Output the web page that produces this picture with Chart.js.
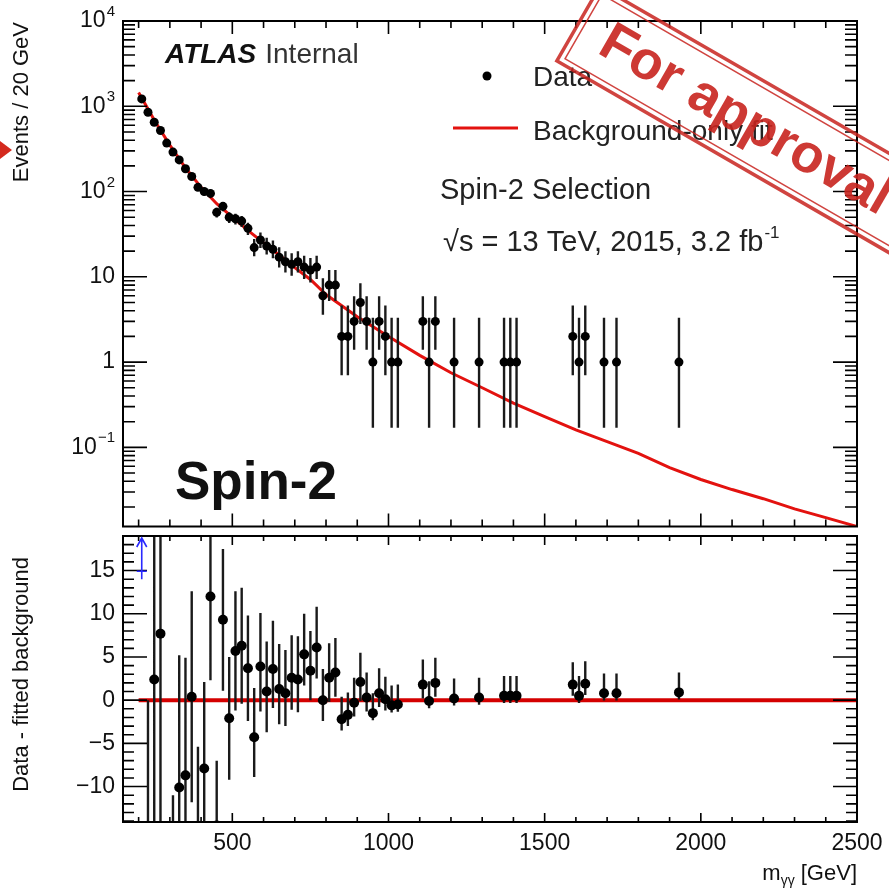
<!DOCTYPE html>
<html lang="en">
<head>
<meta charset="UTF-8" />
<title>Spin-2 selection - diphoton mass</title>
<script src="https://cdn.jsdelivr.net/npm/chart.js"></script>
<style>
  body { margin: 0; background: #fff; }
  .wrap { position: relative; width: 889px; height: 889px; overflow: hidden; }
  canvas { position: absolute; left: 0; }
  #mainChart { top: 0; }
  #ratioChart { top: 531px; }
</style>
</head>
<body>
<div class="wrap">
  <canvas id="mainChart" width="889" height="531"></canvas>
  <canvas id="ratioChart" width="889" height="358"></canvas>
</div>
<script>
// data (20 GeV bins)
const massBins = [210, 230, 250, 270, 290, 310, 330, 350, 370, 390, 410, 430, 450, 470, 490, 510,
  530, 550, 570, 590, 610, 630, 650, 670, 690, 710, 730, 750, 770, 790, 810, 830,
  850, 870, 890, 910, 930, 950, 970, 990, 1010, 1030,
  1110, 1130, 1150, 1210, 1290, 1370, 1390, 1410,
  1590, 1610, 1630, 1690, 1730, 1930];
const events = [1220, 850, 650, 520, 370, 290, 235, 185, 150, 112, 100, 95, 57, 67, 50, 48,
  45, 37, 22, 27, 23, 21, 17, 15, 14, 15, 13, 12, 13, 6, 8, 8,
  2, 2, 3, 5, 3, 1, 3, 2, 1, 1,
  3, 1, 3, 1, 1, 1, 1, 1,
  2, 1, 2, 1, 1, 1];
const errDown = [35, 29, 25.5, 22.8, 19.2, 17, 15.3, 13.6, 12.2, 10.6, 10, 9.7, 7.5, 8.2, 7.1, 6.9,
  6.7, 6.1, 4.6, 5.2, 4.7, 4.5, 4.1, 3.8, 3.7, 3.8, 3.6, 3.4, 3.6, 2.4, 2.8, 2.8,
  1.3, 1.3, 1.6, 2.2, 1.6, 0.83, 1.6, 1.3, 0.83, 0.83,
  1.6, 0.83, 1.6, 0.83, 0.83, 0.83, 0.83, 0.83,
  1.3, 0.83, 1.3, 0.83, 0.83, 0.83];
const errUp = [35, 29, 25.5, 22.8, 19.2, 17, 15.3, 13.6, 12.2, 10.6, 10, 9.7, 7.5, 8.2, 7.1, 6.9,
  6.7, 6.1, 5.7, 6.2, 5.8, 5.6, 5.2, 5.0, 4.9, 5.0, 4.7, 4.6, 4.7, 3.6, 4.0, 4.0,
  2.6, 2.6, 2.9, 3.4, 2.9, 2.3, 2.9, 2.6, 2.3, 2.3,
  2.9, 2.3, 2.9, 2.3, 2.3, 2.3, 2.3, 2.3,
  2.6, 2.3, 2.6, 2.3, 2.3, 2.3];
const residuals = [80, -29, 2.4, 7.7, -40, -28, -10.1, -8.7, 0.4, -16, -7.9, 12.0, -14.5, 9.3, -2.1, 5.7,
  6.3, 3.7, -4.3, 3.9, 1.0, 3.6, 1.3, 0.8, 2.6, 2.4, 5.3, 3.4, 6.1, 0, 2.6, 3.2,
  -2.2, -1.7, -0.3, 2.1, 0.3, -1.5, 0.8, 0.1, -0.6, -0.5,
  1.8, -0.1, 2.0, 0.2, 0.3, 0.5, 0.5, 0.5,
  1.8, 0.5, 1.9, 0.8, 0.8, 0.9];

const fitMass = [200, 250, 300, 350, 400, 450, 500, 550, 600, 650, 700, 750, 800, 900, 1000,
  1100, 1200, 1300, 1400, 1500, 1600, 1700, 1800, 1900, 2000, 2100, 2200, 2300, 2400, 2500];
const fitEvents = [1450, 690, 350, 190, 112, 72, 50, 35, 25, 18, 12.8, 9.3, 6.2, 3.4, 2.0,
  1.2, 0.75, 0.5, 0.33, 0.23, 0.16, 0.117, 0.085, 0.058, 0.042, 0.032, 0.025, 0.019, 0.015, 0.0118];

const xTicks = [500, 1000, 1500, 2000, 2500];
const logTicks = [0.1, 1, 10, 100, 1000, 10000];
const residualTicks = [-10, -5, 0, 5, 10, 15];

const FONT = '"Liberation Sans", Arial, Helvetica, sans-serif';
const INK = '#111';
const RED = '#e3120f';
Chart.defaults.font.family = FONT;
Chart.defaults.color = INK;

function clipToArea(ctx, a) {
  ctx.beginPath();
  ctx.rect(a.left, a.top, a.right - a.left, a.bottom - a.top);
  ctx.clip();
}

// fixed axis box, no extra room for overhanging labels
function pinAxis(size) {
  return s => {
    if (s.isHorizontal()) s.height = size; else s.width = size;
    s.paddingTop = s.paddingBottom = s.paddingLeft = s.paddingRight = 0;
  };
}

// ROOT-like frame: ticks pointing inwards on all four sides
function drawFrame(chart, yMajor, yMinor, len) {
  const { ctx, chartArea: a, scales } = chart;
  const sx = scales.x, sy = scales.y;
  ctx.save();
  ctx.strokeStyle = '#000';
  ctx.lineWidth = 1.6;
  ctx.beginPath();
  for (let v = 200; v < 2500; v += 100) {
    const px = sx.getPixelForValue(v);
    const l = v % 500 === 0 ? len.xMajor : len.xMinor;
    ctx.moveTo(px, a.top); ctx.lineTo(px, a.top + l);
    ctx.moveTo(px, a.bottom); ctx.lineTo(px, a.bottom - l);
  }
  const tick = (v, l) => {
    const py = sy.getPixelForValue(v);
    ctx.moveTo(a.left, py); ctx.lineTo(a.left + l, py);
    ctx.moveTo(a.right, py); ctx.lineTo(a.right - l, py);
  };
  yMajor.forEach(v => tick(v, len.yMajor));
  yMinor.forEach(v => tick(v, len.yMinor));
  ctx.stroke();
  ctx.lineWidth = 2;
  ctx.strokeRect(a.left, a.top, a.right - a.left, a.bottom - a.top);
  ctx.restore();
}

// vertical error bars, drawn just before the markers of the same dataset
const errorBars = {
  id: 'errorBars',
  beforeDatasetDraw(chart, args) {
    const ds = chart.data.datasets[args.index];
    if (!ds.errLow) return;
    const { ctx, chartArea: a, scales: { y } } = chart;
    ctx.save();
    clipToArea(ctx, a);
    ctx.strokeStyle = '#1a1a1a';
    ctx.lineWidth = 2.4;
    ctx.beginPath();
    ds.data.forEach((p, i) => {
      const px = args.meta.data[i].x;
      ctx.moveTo(px, y.getPixelForValue(p.y - ds.errLow[i]));
      ctx.lineTo(px, y.getPixelForValue(p.y + ds.errHigh[i]));
    });
    ctx.stroke();
    ctx.restore();
  }
};

function text(ctx, str, x, y, font, color, align) {
  ctx.font = font;
  ctx.fillStyle = color || INK;
  ctx.textAlign = align || 'left';
  ctx.fillText(str, x, y);
  return ctx.measureText(str).width;
}

function rotatedTitle(ctx, str, x, yEnd, font) {
  ctx.save();
  ctx.translate(x, yEnd);
  ctx.rotate(-Math.PI / 2);
  ctx.textBaseline = 'middle';
  text(ctx, str, 0, 0, font, INK, 'right');
  ctx.restore();
}

const topDecor = {
  id: 'topDecor',
  afterDraw(chart) {
    const { ctx, chartArea: a, scales: { y } } = chart;
    const yMinor = [];
    for (let e = -2; e <= 3; e++) {
      for (let m = 2; m <= 9; m++) {
        const v = m * Math.pow(10, e);
        if (v > y.min && v < y.max) yMinor.push(v);
      }
    }
    drawFrame(chart, logTicks, yMinor, { xMajor: 13, xMinor: 7, yMajor: 24, yMinor: 12 });

    // decade labels with superscript exponents
    ctx.save();
    ctx.textBaseline = 'middle';
    y.ticks.forEach(t => {
      const py = y.getPixelForValue(t.value);
      const e = Math.round(Math.log10(t.value));
      const right = a.left - 8;
      if (e === 0 || e === 1) {
        text(ctx, e === 0 ? '1' : '10', right, py, '23px ' + FONT, INK, 'right');
      } else {
        const exp = e < 0 ? '\u2212' + Math.abs(e) : String(e);
        ctx.font = '15px ' + FONT;
        const w = ctx.measureText(exp).width;
        text(ctx, exp, right, py - 9, '15px ' + FONT, INK, 'right');
        text(ctx, '10', right - w - 1, py, '23px ' + FONT, INK, 'right');
      }
    });
    ctx.restore();

    ctx.save();
    rotatedTitle(ctx, 'Events / 20 GeV', 22, a.top + 1, '22px ' + FONT);

    // labels
    const w = text(ctx, 'ATLAS', 165, 63, 'italic bold 28px ' + FONT, '#111');
    text(ctx, 'Internal', 165 + w + 9, 63, '28px ' + FONT, '#333');
    text(ctx, 'Spin-2 Selection', 440, 199, '29px ' + FONT, '#222');
    const w2 = text(ctx, '\u221As = 13 TeV, 2015, 3.2 fb', 443, 251, '29px ' + FONT, '#222');
    text(ctx, '-1', 443 + w2 + 1, 238, '17px ' + FONT, '#222');
    text(ctx, 'Spin-2', 175, 499, 'bold 53px ' + FONT, '#111');

    // legend from the datasets
    const [dataDs, fitDs] = chart.data.datasets;
    ctx.fillStyle = dataDs.backgroundColor;
    ctx.beginPath();
    ctx.arc(487, 76, 4.5, 0, Math.PI * 2);
    ctx.fill();
    text(ctx, dataDs.label, 533, 86, '28px ' + FONT, '#222');
    ctx.strokeStyle = fitDs.borderColor;
    ctx.lineWidth = 3;
    ctx.beginPath();
    ctx.moveTo(453, 128); ctx.lineTo(518, 128);
    ctx.stroke();
    text(ctx, fitDs.label, 533, 140, '28px ' + FONT, '#222');

    // small red mark at the left page edge
    ctx.fillStyle = '#d42a1e';
    ctx.beginPath();
    ctx.moveTo(0, 141); ctx.lineTo(12, 150); ctx.lineTo(0, 159);
    ctx.fill();

    // "For approval" stamp
    ctx.translate(745, 121);
    ctx.rotate(30 * Math.PI / 180);
    ctx.strokeStyle = 'rgba(200,35,30,0.85)';
    ctx.lineWidth = 3.5;
    ctx.strokeRect(-193, -44, 480, 86);
    ctx.lineWidth = 1.5;
    ctx.strokeRect(-187, -38, 468, 74);
    ctx.textBaseline = 'middle';
    text(ctx, 'For approval', 0, 0, 'bold 54px ' + FONT, 'rgba(200,35,30,0.9)', 'center');
    ctx.restore();
  }
};

const bottomDecor = {
  id: 'bottomDecor',
  afterDraw(chart) {
    const { ctx, chartArea: a, scales: { x, y } } = chart;
    const yMinor = [];
    for (let v = Math.ceil(y.min); v <= Math.floor(y.max); v++) {
      if (v % 5 !== 0) yMinor.push(v);
    }
    drawFrame(chart, residualTicks, yMinor, { xMajor: 9, xMinor: 5, yMajor: 24, yMinor: 11 });

    ctx.save();
    // arrows for points above the range
    const ds = chart.data.datasets[0];
    ctx.strokeStyle = '#2a2aff';
    ctx.lineWidth = 1.6;
    ds.data.forEach(p => {
      if (p.y <= y.max) return;
      const px = x.getPixelForValue(p.x);
      const y0 = y.getPixelForValue(y.max - 5);
      const y1 = a.top + 2;
      ctx.beginPath();
      ctx.moveTo(px, y0); ctx.lineTo(px, y1);
      ctx.moveTo(px - 5, y1 + 9); ctx.lineTo(px, y1); ctx.lineTo(px + 5, y1 + 9);
      ctx.moveTo(px - 5, y0 - 8); ctx.lineTo(px + 5, y0 - 8);
      ctx.stroke();
    });

    rotatedTitle(ctx, 'Data - fitted background', 22, a.top + 21, '22px ' + FONT);

    // x title with subscript
    ctx.textBaseline = 'alphabetic';
    ctx.font = '22px ' + FONT;
    const wm = ctx.measureText('m').width;
    const wr = ctx.measureText(' [GeV]').width;
    ctx.font = '14px ' + FONT;
    const ws = ctx.measureText('\u03b3\u03b3').width;
    const left = a.right - (wm + ws + wr);
    text(ctx, 'm', left, 349, '22px ' + FONT, INK);
    text(ctx, '\u03b3\u03b3', left + wm, 354, '14px ' + FONT, INK);
    text(ctx, ' [GeV]', left + wm + ws, 349, '22px ' + FONT, INK);
    ctx.restore();
  }
};

const xRange = { min: 150, max: 2500 };

new Chart(document.getElementById('mainChart'), {
  type: 'scatter',
  data: {
    datasets: [
      {
        label: 'Data',
        data: massBins.map((m, i) => ({ x: m, y: events[i] })),
        errLow: errDown,
        errHigh: errUp,
        pointRadius: 4.5,
        backgroundColor: '#000',
        borderColor: '#000',
        borderWidth: 0,
        order: 1
      },
      {
        label: 'Background-only fit',
        data: fitMass.map((m, i) => ({ x: m, y: fitEvents[i] })),
        showLine: true,
        pointRadius: 0,
        borderColor: RED,
        borderWidth: 3,
        order: 2
      }
    ]
  },
  options: {
    responsive: false,
    animation: false,
    devicePixelRatio: 1,
    layout: { padding: { top: 21, right: 32, bottom: 1, left: 0 } },
    plugins: { legend: { display: false }, tooltip: { enabled: false } },
    scales: {
      x: { type: 'linear', min: xRange.min, max: xRange.max, display: false },
      y: {
        type: 'logarithmic',
        min: 0.0118,
        max: 10000,
        afterBuildTicks: s => { s.ticks = logTicks.map(v => ({ value: v })); },
        afterFit: pinAxis(123),
        grid: { display: false, drawTicks: false },
        border: { display: false },
        ticks: { display: false }
      }
    }
  },
  plugins: [errorBars, topDecor]
});

new Chart(document.getElementById('ratioChart'), {
  type: 'scatter',
  data: {
    datasets: [
      {
        label: 'Data - fit',
        data: massBins.map((m, i) => ({ x: m, y: residuals[i] })),
        errLow: errDown,
        errHigh: errUp,
        pointRadius: 5,
        backgroundColor: '#000',
        borderColor: '#000',
        borderWidth: 0,
        order: 1
      },
      {
        label: 'fit - fit',
        data: fitMass.map(m => ({ x: m, y: 0 })),
        showLine: true,
        pointRadius: 0,
        borderColor: '#d40000',
        borderWidth: 4,
        order: 2
      }
    ]
  },
  options: {
    responsive: false,
    animation: false,
    devicePixelRatio: 1,
    layout: { padding: { top: 2, right: 32, bottom: 0, left: 0 } },
    plugins: { legend: { display: false }, tooltip: { enabled: false } },
    scales: {
      x: {
        type: 'linear',
        min: xRange.min,
        max: xRange.max,
        afterBuildTicks: s => { s.ticks = xTicks.map(v => ({ value: v })); },
        afterFit: pinAxis(67),
        grid: { display: false, drawTicks: false },
        border: { display: false },
        ticks: { padding: 8, autoSkip: false, maxRotation: 0, font: { size: 23 }, color: INK,
          callback: v => String(v) }
      },
      y: {
        min: -14.1,
        max: 19,
        afterBuildTicks: s => { s.ticks = residualTicks.map(v => ({ value: v })); },
        afterFit: pinAxis(123),
        grid: { display: false, drawTicks: false },
        border: { display: false },
        ticks: {
          padding: 8,
          font: { size: 23 },
          color: INK,
          callback: v => (v < 0 ? '\u2212' + Math.abs(v) : String(v))
        }
      }
    }
  },
  plugins: [errorBars, bottomDecor]
});
</script>
</body>
</html>
